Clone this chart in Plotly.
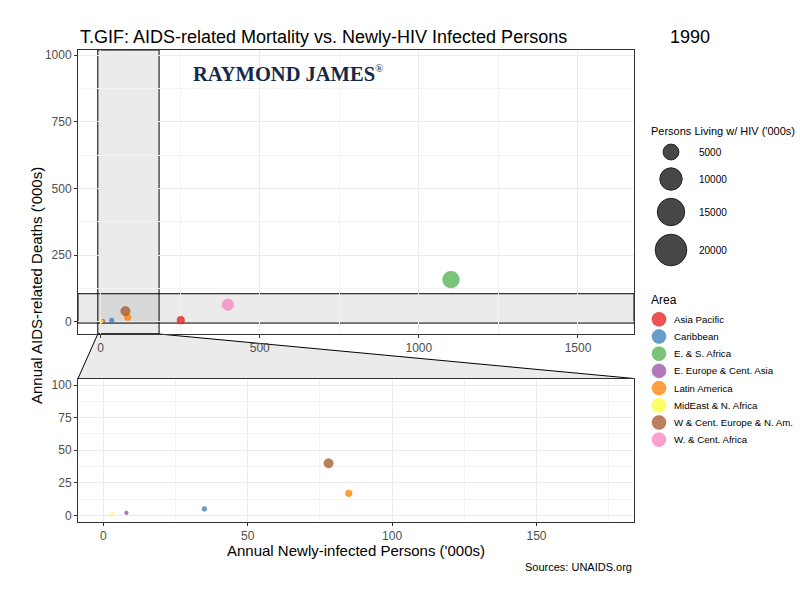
import plotly.graph_objects as go

year = "1990"
areas = ["Asia Pacific", "Caribbean", "E. & S. Africa", "E. Europe & Cent. Asia",
         "Latin America", "MidEast & N. Africa", "W & Cent. Europe & N. Am.",
         "W. & Cent. Africa"]
area_colors = ["#E41A1C", "#377EB8", "#4DAF4A", "#984EA3",
               "#FF7F00", "#FFFF33", "#A65628", "#F781BF"]
new_infected = [252, 35, 1101, 8, 85, 3, 78, 400]      # '000s
deaths = [6, 5, 158, 2, 17, 1, 40, 64]                 # '000s
living = [1130, 440, 5580, 275, 900, 180, 1730, 2650]  # '000s
size_breaks = [5000, 10000, 15000, 20000]
zoom_x = [0, 175]
zoom_y = [0, 100]
top_x_range = [-71, 1676]
top_y_range = [-46, 1019]

FONT = "Liberation Sans"
SIZEREF = 40
ALPHA = 0.75


def rgba(hex_col, a):
    h = hex_col.lstrip("#")
    r, g, b = int(h[0:2], 16), int(h[2:4], 16), int(h[4:6], 16)
    return "rgba(%d,%d,%d,%.2f)" % (r, g, b, a)


def expand(lim, f=0.05):
    span = lim[1] - lim[0]
    return [lim[0] - f * span, lim[1] + f * span]


zx = expand(zoom_x)
zy = expand(zoom_y)

# layout geometry (paper units)
W, L, T, B = 800, 78, 50, 78
plot_w = W - L
plot_h = 600 - T - B
dx = (634 - L) / plot_w
top_dom = [(522 - 334) / plot_h, 1]
bot_dom = [0, (522 - 378.5) / plot_h]

fill_cols = [rgba(c, ALPHA) for c in area_colors]

fig = go.Figure()
for xa, ya in [("x", "y"), ("x2", "y2")]:
    fig.add_trace(go.Scatter(
        x=new_infected, y=deaths, mode="markers", xaxis=xa, yaxis=ya,
        marker=dict(size=living, sizemode="area", sizeref=SIZEREF, opacity=1,
                    color=fill_cols, line=dict(width=0.6, color=fill_cols)),
        text=areas, hoverinfo="text+x+y", showlegend=False))

# size legend
size_y = [152, 179, 212, 250]
fig.add_trace(go.Scatter(
    x=[671] * len(size_breaks), y=size_y, mode="markers", xaxis="x3", yaxis="y3",
    marker=dict(size=size_breaks, sizemode="area", sizeref=SIZEREF, opacity=1,
                color="#474747", line=dict(width=1, color="#222")),
    hoverinfo="skip", showlegend=False))

# colour legend
leg_y = [319.3 + i * 17.2 for i in range(len(areas))]
fig.add_trace(go.Scatter(
    x=[659] * len(areas), y=leg_y, mode="markers", xaxis="x3", yaxis="y3",
    marker=dict(size=14, color=fill_cols, opacity=1, line=dict(width=0.6, color=fill_cols)),
    hoverinfo="skip", showlegend=False))

annotations = []
for s, yy in zip(size_breaks, size_y):
    annotations.append(dict(x=697, y=yy, xref="x3", yref="y3", text=str(s), showarrow=False,
                            xanchor="left", yanchor="middle",
                            font=dict(family=FONT, size=10, color="#000")))
for a, yy in zip(areas, leg_y):
    annotations.append(dict(x=672, y=yy, xref="x3", yref="y3", text=a, showarrow=False,
                            xanchor="left", yanchor="middle",
                            font=dict(family=FONT, size=9.7, color="#000")))
annotations += [
    dict(x=649, y=131, xref="x3", yref="y3", text="Persons Living w/ HIV ('000s)",
         showarrow=False, xanchor="left", yanchor="middle",
         font=dict(family=FONT, size=11, color="#000")),
    dict(x=649, y=300, xref="x3", yref="y3", text="Area", showarrow=False,
         xanchor="left", yanchor="middle", font=dict(family=FONT, size=12, color="#000")),
    dict(x=0, y=(522 - 37) / plot_h, xref="paper", yref="paper",
         text="T.GIF: AIDS-related Mortality vs. Newly-HIV Infected Persons",
         showarrow=False, xanchor="left", yanchor="middle",
         font=dict(family=FONT, size=18, color="#000")),
    dict(x=(690 - L) / plot_w, y=(522 - 37) / plot_h, xref="paper", yref="paper",
         text=year, showarrow=False, xanchor="center", yanchor="middle",
         font=dict(family=FONT, size=18, color="#000")),
    dict(x=(191 - L) / plot_w, y=(522 - 73) / plot_h, xref="paper", yref="paper",
         text="<b>RAYMOND JAMES</b><sup><span style='font-size:11px'>®</span></sup>",
         showarrow=False, xanchor="left", yanchor="middle",
         font=dict(family="Liberation Serif", size=20.5, color="#13294B")),
    dict(x=(36 - L) / plot_w, y=0.5, xref="paper", yref="paper",
         text="Annual AIDS-related Deaths ('000s)", textangle=-90, showarrow=False,
         xanchor="center", yanchor="middle", font=dict(family=FONT, size=15, color="#000")),
    dict(x=(356 - L) / plot_w, y=(522 - 550) / plot_h, xref="paper", yref="paper",
         text="Annual Newly-infected Persons ('000s)", showarrow=False,
         xanchor="center", yanchor="middle", font=dict(family=FONT, size=15, color="#000")),
    dict(x=dx, y=(522 - 567) / plot_h, xref="paper", yref="paper",
         text="Sources: UNAIDS.org", showarrow=False,
         xanchor="right", yanchor="middle", font=dict(family=FONT, size=11, color="#000")),
]

band = "rgba(0,0,0,0.08)"
edge = dict(color="#000", width=1)


def to_paper_x(v):
    return dx * (v - top_x_range[0]) / (top_x_range[1] - top_x_range[0])


trap_left = to_paper_x(zx[0])
trap_right = to_paper_x(zx[1])
shapes = [
    dict(type="rect", xref="x", yref="y", x0=zx[0], x1=zx[1],
         y0=top_y_range[0], y1=top_y_range[1],
         fillcolor=band, line=edge, layer="below"),
    dict(type="rect", xref="x", yref="y", x0=top_x_range[0], x1=top_x_range[1],
         y0=zy[0], y1=zy[1], fillcolor=band, line=edge, layer="below"),
    dict(type="path", xref="paper", yref="paper",
         path="M %f,%f L %f,%f L %f,%f L %f,%f Z" % (
             trap_left, top_dom[0], trap_right, top_dom[0], dx, bot_dom[1], 0, bot_dom[1]),
         fillcolor=band, line=edge, layer="below"),
]

axis_common = dict(showline=True, linecolor="#333", linewidth=1, mirror=True,
                   ticks="outside", ticklen=3, tickcolor="#333", zeroline=False,
                   showgrid=True, gridcolor="#EBEBEB", gridwidth=1,
                   tickfont=dict(family=FONT, size=12, color="#4D4D4D"))
minor_grid = dict(showgrid=True, gridcolor="#F3F3F3", gridwidth=0.6)

fig.update_layout(
    width=800, height=600, plot_bgcolor="white", paper_bgcolor="white",
    margin=dict(l=L, r=0, t=T, b=B),
    font=dict(family=FONT),
    xaxis=dict(domain=[0, dx], range=top_x_range, anchor="y", tickvals=[0, 500, 1000, 1500],
               minor=dict(dtick=250, tick0=0, **minor_grid), **axis_common),
    yaxis=dict(domain=top_dom, range=top_y_range, anchor="x", tickvals=[0, 250, 500, 750, 1000],
               minor=dict(dtick=125, tick0=0, **minor_grid), **axis_common),
    xaxis2=dict(domain=[0, dx], range=zx, anchor="y2", tickvals=[0, 50, 100, 150],
                minor=dict(dtick=25, tick0=0, **minor_grid), **axis_common),
    yaxis2=dict(domain=bot_dom, range=zy, anchor="x2", tickvals=[0, 25, 50, 75, 100],
                minor=dict(dtick=12.5, tick0=0, **minor_grid), **axis_common),
    xaxis3=dict(domain=[dx, 1], range=[634, 800], anchor="y3", visible=False, fixedrange=True),
    yaxis3=dict(domain=[0, 1], range=[522, 50], anchor="x3", visible=False, fixedrange=True),
    annotations=annotations,
    shapes=shapes,
)

fig.write_html("out.html", config={"displayModeBar": False},
               post_script="document.body.style.margin='0px';")
